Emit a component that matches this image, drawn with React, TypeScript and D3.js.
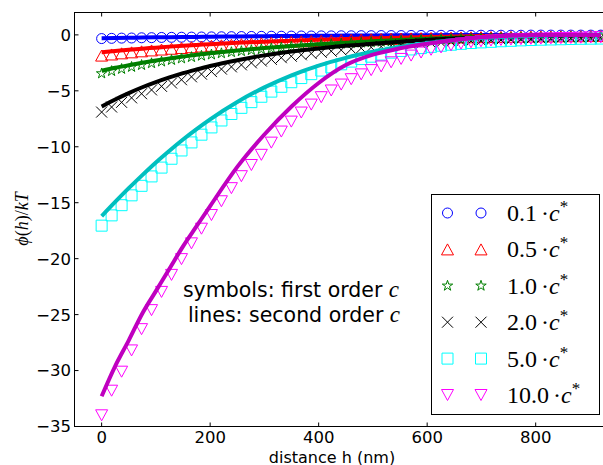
import React from 'react';
import * as d3 from 'd3';

// distance grid of the first-order (symbol) data, nm
const markerH = [0, 18.4, 36.8, 55.2, 73.6, 92, 110.4, 128.8, 147.2, 165.6, 184, 202.4, 220.8, 239.2, 257.6, 276, 294.4, 312.8, 331.2, 349.6, 368, 386.4, 404.8, 423.2, 441.6, 460, 478.4, 496.8, 515.2, 533.6, 552, 570.4, 588.8, 607.2, 625.6, 644, 662.4, 680.8, 699.2, 717.6, 736, 754.4, 772.8, 791.2, 809.6, 828, 846.4, 864.8, 883.2, 901.6, 920];
// distance grid of the second-order (line) data, nm
const lineH = [0, 25, 50, 75, 100, 125, 150, 175, 200, 250, 300, 350, 400, 450, 500, 550, 600, 650, 700, 750, 800, 850, 920];

// first order c (symbols)
const first01 = [-0.33, -0.31, -0.29, -0.28, -0.26, -0.25, -0.23, -0.22, -0.21, -0.20, -0.19, -0.18, -0.17, -0.16, -0.15, -0.14, -0.13, -0.12, -0.12, -0.11, -0.10, -0.10, -0.09, -0.09, -0.08, -0.08, -0.07, -0.07, -0.06, -0.06, -0.06, -0.05, -0.05, -0.05, -0.04, -0.04, -0.04, -0.04, -0.03, -0.03, -0.03, -0.03, -0.03, -0.02, -0.02, -0.02, -0.02, -0.02, -0.02, -0.02, -0.02];
const first05 = [-1.85, -1.75, -1.65, -1.56, -1.47, -1.39, -1.31, -1.24, -1.17, -1.10, -1.04, -0.98, -0.93, -0.88, -0.83, -0.78, -0.74, -0.70, -0.66, -0.62, -0.58, -0.55, -0.52, -0.49, -0.46, -0.43, -0.41, -0.39, -0.37, -0.35, -0.33, -0.31, -0.29, -0.27, -0.26, -0.24, -0.23, -0.22, -0.20, -0.19, -0.18, -0.17, -0.16, -0.15, -0.14, -0.14, -0.13, -0.12, -0.12, -0.11, -0.11];
const first10 = [-3.45, -3.24, -3.05, -2.87, -2.70, -2.54, -2.39, -2.25, -2.11, -1.99, -1.87, -1.76, -1.65, -1.55, -1.46, -1.37, -1.29, -1.21, -1.14, -1.07, -1.01, -0.95, -0.89, -0.84, -0.79, -0.74, -0.70, -0.66, -0.62, -0.58, -0.55, -0.51, -0.48, -0.45, -0.43, -0.40, -0.38, -0.36, -0.34, -0.32, -0.30, -0.28, -0.26, -0.25, -0.23, -0.22, -0.21, -0.19, -0.18, -0.17, -0.16];
const first20 = [-6.90, -6.45, -6.03, -5.63, -5.26, -4.92, -4.60, -4.30, -4.01, -3.75, -3.51, -3.28, -3.06, -2.86, -2.68, -2.50, -2.34, -2.19, -2.04, -1.91, -1.78, -1.67, -1.56, -1.46, -1.36, -1.27, -1.19, -1.11, -1.04, -0.97, -0.91, -0.85, -0.79, -0.74, -0.69, -0.65, -0.60, -0.56, -0.53, -0.49, -0.46, -0.43, -0.40, -0.38, -0.35, -0.33, -0.31, -0.29, -0.27, -0.25, -0.24];
const first50 = [-17.05, -16.13, -15.22, -14.34, -13.49, -12.65, -11.86, -11.07, -10.33, -9.61, -8.92, -8.27, -7.65, -7.07, -6.52, -6.01, -5.53, -5.07, -4.64, -4.23, -3.86, -3.51, -3.19, -2.90, -2.63, -2.39, -2.16, -1.95, -1.76, -1.59, -1.44, -1.30, -1.18, -1.07, -0.97, -0.88, -0.80, -0.73, -0.67, -0.62, -0.57, -0.53, -0.49, -0.46, -0.43, -0.41, -0.39, -0.37, -0.35, -0.34, -0.33];
const first100 = [-34.0, -31.8, -30.1, -28.2, -26.3, -24.6, -22.97, -21.45, -20.04, -18.63, -17.32, -16.10, -14.87, -13.70, -12.63, -11.63, -10.72, -9.63, -8.64, -7.75, -6.94, -6.23, -5.57, -4.97, -4.44, -3.96, -3.53, -3.15, -2.82, -2.45, -2.15, -1.85, -1.58, -1.33, -1.12, -0.93, -0.78, -0.66, -0.57, -0.50, -0.45, -0.41, -0.38, -0.35, -0.33, -0.31, -0.29, -0.27, -0.25, -0.23, -0.21];

// second order c (lines)
const second01 = [-0.30, -0.28, -0.26, -0.24, -0.22, -0.21, -0.19, -0.18, -0.16, -0.14, -0.12, -0.10, -0.08, -0.06, -0.05, -0.04, -0.03, -0.02, -0.015, -0.01, -0.01, -0.005, 0];
const second05 = [-1.55, -1.44, -1.33, -1.23, -1.14, -1.05, -0.97, -0.90, -0.83, -0.71, -0.61, -0.52, -0.44, -0.37, -0.31, -0.25, -0.20, -0.15, -0.11, -0.08, -0.05, -0.03, -0.02];
const second10 = [-3.2, -2.94, -2.71, -2.49, -2.29, -2.11, -1.94, -1.78, -1.64, -1.39, -1.18, -1.00, -0.84, -0.71, -0.58, -0.46, -0.35, -0.26, -0.19, -0.13, -0.09, -0.06, -0.03];
const second20 = [-6.4, -5.77, -5.20, -4.68, -4.22, -3.80, -3.42, -3.09, -2.78, -2.26, -1.83, -1.49, -1.21, -0.98, -0.80, -0.62, -0.45, -0.33, -0.24, -0.17, -0.12, -0.08, -0.05];
const second50 = [-16.2, -14.93, -13.70, -12.53, -11.40, -10.35, -9.35, -8.42, -7.55, -6.00, -4.69, -3.61, -2.74, -2.05, -1.51, -1.08, -0.74, -0.48, -0.29, -0.16, -0.08, -0.04, -0.01];
const second100 = [-32.3, -29.6, -27.3, -24.9, -22.9, -20.9, -18.9, -17.1, -15.3, -11.8, -8.9, -6.4, -4.3, -2.7, -1.77, -1.20, -0.79, -0.46, -0.22, -0.08, -0.02, 0, 0];

const legendLabels = ['0.1', '0.5', '1.0', '2.0', '5.0', '10.0'];
const markerTypes = ['circle', 'triUp', 'star', 'x', 'square', 'triDown'];
const markerColors = ['#0000ff', '#ff0000', '#007f00', '#000000', '#00ffff', '#ff00ff'];
const lineColors = ['#0000ff', '#ff0000', '#007f00', '#000000', '#00bfbf', '#bf00bf'];
const firstSeries = [first01, first05, first10, first20, first50, first100];
const secondSeries = [second01, second05, second10, second20, second50, second100];

const xTicks = [0, 200, 400, 600, 800];
const yTicks = [0, -5, -10, -15, -20, -25, -30, -35];

const W = 603, H = 465;
const L = 74.5, T = 12.5, B = 426.5;

function markerPath(type: string): string {
  switch (type) {
    case 'circle': return d3.symbol(d3.symbolCircle, Math.PI * 25)() as string;
    case 'triUp': return 'M0,-5.5L6,5.5L-6,5.5Z';
    case 'triDown': return 'M-6,-5.5L6,-5.5L0,5.5Z';
    case 'square': return 'M-5.5,-5.5H5.5V5.5H-5.5Z';
    case 'x': return 'M-5.5,-5.5L5.5,5.5M-5.5,5.5L5.5,-5.5';
    case 'star': {
      const p = d3.path();
      for (let k = 0; k < 10; k++) {
        const r = k % 2 === 0 ? 5.5 : 2.1;
        const a = -Math.PI / 2 + (k * Math.PI) / 5;
        if (k === 0) p.moveTo(r * Math.cos(a), r * Math.sin(a));
        else p.lineTo(r * Math.cos(a), r * Math.sin(a));
      }
      p.closePath();
      return p.toString();
    }
  }
  return '';
}

export default function App() {
  const x = d3.scaleLinear().domain([-50, 925]).range([74.5, 603.5]);
  const y = d3.scaleLinear().domain([-35, 2]).range([B, T]);
  const line = d3.line<[number, number]>()
    .x(d => x(d[0]))
    .y(d => y(d[1]))
    .curve(d3.curveMonotoneX);

  const legendTop = 213;
  const legendStep = 36.4;

  return (
    <svg width={W} height={H} style={{ position: 'absolute', left: 0, top: 0, background: '#fff' }}>
      <defs>
        <clipPath id="plot">
          <rect x={L} y={T} width={W - L + 5} height={B - T} />
        </clipPath>
      </defs>
      <rect x={0} y={0} width={W} height={H} fill="#fff" />
      <g clipPath="url(#plot)">
        {firstSeries.map((vals, s) => (
          <g key={s}>
            {vals.map((v, i) => (
              <path key={i} d={markerPath(markerTypes[s])}
                transform={`translate(${x(markerH[i])},${y(v)})`}
                fill="none" stroke={markerColors[s]} strokeWidth={1} />
            ))}
            <path d={line(lineH.map((h, i) => [h, secondSeries[s][i]] as [number, number])) as string}
              fill="none" stroke={lineColors[s]} strokeWidth={4} strokeLinecap="butt" />
          </g>
        ))}
      </g>
      {/* frame */}
      <rect x={L} y={T} width={x(960) - L} height={B - T} fill="none" stroke="#000" strokeWidth={1} />
      {/* x ticks */}
      {xTicks.map(t => (
        <g key={t}>
          <line x1={x(t)} x2={x(t)} y1={B} y2={B - 4} stroke="#000" />
          <line x1={x(t)} x2={x(t)} y1={T} y2={T + 4} stroke="#000" />
          <text x={x(t)} y={443} textAnchor="middle" fontFamily="DejaVu Sans" fontSize={16.5}>{t}</text>
        </g>
      ))}
      {yTicks.map(t => (
        <g key={t}>
          <line x1={L} x2={L + 4} y1={y(t)} y2={y(t)} stroke="#000" />
          <text x={71} y={y(t)} dy="0.36em" textAnchor="end" fontFamily="DejaVu Sans" fontSize={16.5}>
            {t < 0 ? '\u2212' + Math.abs(t) : String(t)}
          </text>
        </g>
      ))}
      <text x={332} y={462.5} textAnchor="middle" fontFamily="DejaVu Sans" fontSize={16}>distance h (nm)</text>
      <text transform="translate(28,219) rotate(-90)" textAnchor="middle" fontFamily="Liberation Serif" fontSize={18}>
        <tspan fontStyle="italic">{'\u03d5'}</tspan>(<tspan fontStyle="italic">h</tspan>)/<tspan fontStyle="italic">kT</tspan>
      </text>
      {/* annotation */}
      <text x={291} y={297} textAnchor="middle" fontFamily="DejaVu Sans" fontSize={20.5}>
        symbols: first order <tspan fontFamily="Liberation Serif" fontStyle="italic" fontSize={23}>c</tspan>
      </text>
      <text x={294} y={322} textAnchor="middle" fontFamily="DejaVu Sans" fontSize={20.5}>
        lines: second order <tspan fontFamily="Liberation Serif" fontStyle="italic" fontSize={23}>c</tspan>
      </text>
      {/* legend */}
      <rect x={431.5} y={194.5} width={168} height={220} fill="#fff" stroke="#000" strokeWidth={1} />
      {legendLabels.map((lab, s) => {
        const cy = legendTop + s * legendStep;
        return (
          <g key={lab}>
            <path d={markerPath(markerTypes[s])} transform={`translate(447.5,${cy})`} fill="none" stroke={markerColors[s]} strokeWidth={1} />
            <path d={markerPath(markerTypes[s])} transform={`translate(481,${cy})`} fill="none" stroke={markerColors[s]} strokeWidth={1} />
            <text x={507} y={cy + 8} fontFamily="Liberation Serif" fontSize={24}>
              {lab}<tspan dx={4}>{'\u00b7'}</tspan><tspan fontStyle="italic">c</tspan><tspan dy={-9} fontSize={17}>*</tspan>
            </text>
          </g>
        );
      })}
    </svg>
  );
}
